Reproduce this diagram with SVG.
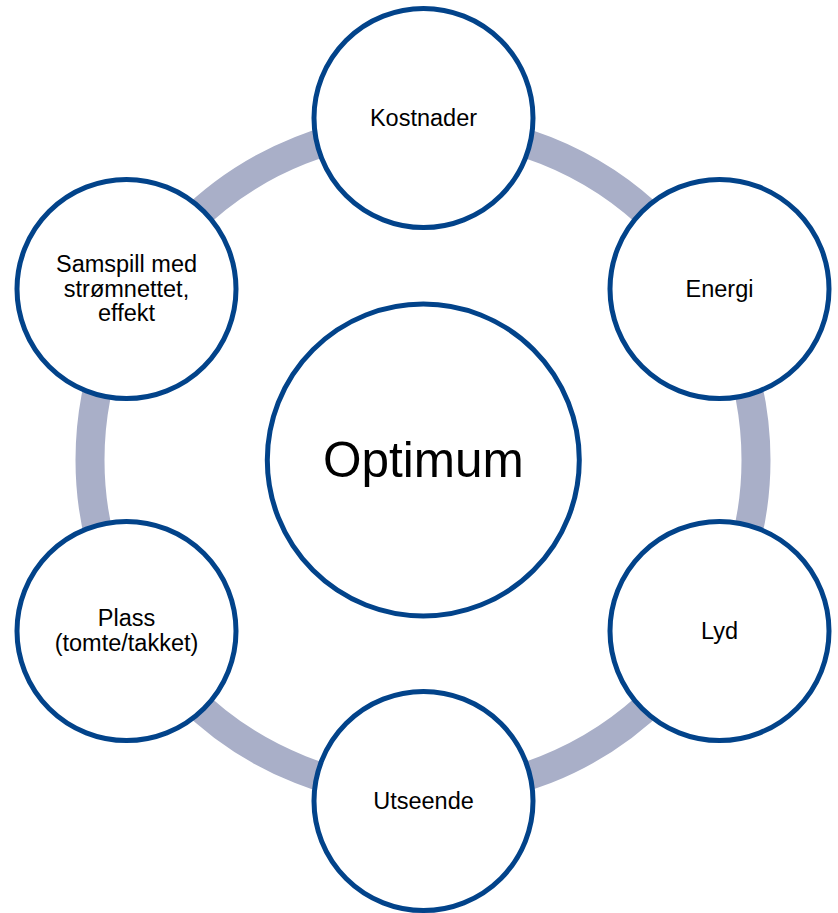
<svg xmlns="http://www.w3.org/2000/svg" width="838" height="913" viewBox="0 0 838 913">
<style>
.node{fill:#fff;stroke:#02438A;stroke-width:5}
.lbl{font-family:"Liberation Sans",Arial,sans-serif;font-size:23.5px;fill:#000;text-anchor:middle}
.big{font-family:"Liberation Sans",Arial,sans-serif;font-size:49.5px;fill:#000;text-anchor:middle}
</style>
<rect width="838" height="913" fill="#fff"/>
<g id="connectors">
<circle cx="423" cy="460" r="333" fill="none" stroke="#A9AFC8" stroke-width="29"/>
</g>
<g id="center">
<circle class="node" cx="423.3" cy="460" r="156"/>
<text class="big" x="423.3" y="477">Optimum</text>
</g>
<g id="kostnader">
<circle class="node" cx="423.5" cy="118" r="109.5"/>
<text class="lbl" x="423.5" y="126">Kostnader</text>
</g>
<g id="energi">
<circle class="node" cx="719.5" cy="289" r="109.5"/>
<text class="lbl" x="719.5" y="297">Energi</text>
</g>
<g id="lyd">
<circle class="node" cx="719.5" cy="631" r="109.5"/>
<text class="lbl" x="719.5" y="639">Lyd</text>
</g>
<g id="utseende">
<circle class="node" cx="423.5" cy="801" r="109.5"/>
<text class="lbl" x="423.5" y="809">Utseende</text>
</g>
<g id="plass">
<circle class="node" cx="126.5" cy="631" r="109.5"/>
<text class="lbl" x="126.5" y="626">Plass</text>
<text class="lbl" x="126.5" y="651">(tomte/takket)</text>
</g>
<g id="samspill">
<circle class="node" cx="126.5" cy="289" r="109.5"/>
<text class="lbl" x="126.5" y="272">Samspill med</text>
<text class="lbl" x="126.5" y="296.5">strømnettet,</text>
<text class="lbl" x="126.5" y="321">effekt</text>
</g>
</svg>
